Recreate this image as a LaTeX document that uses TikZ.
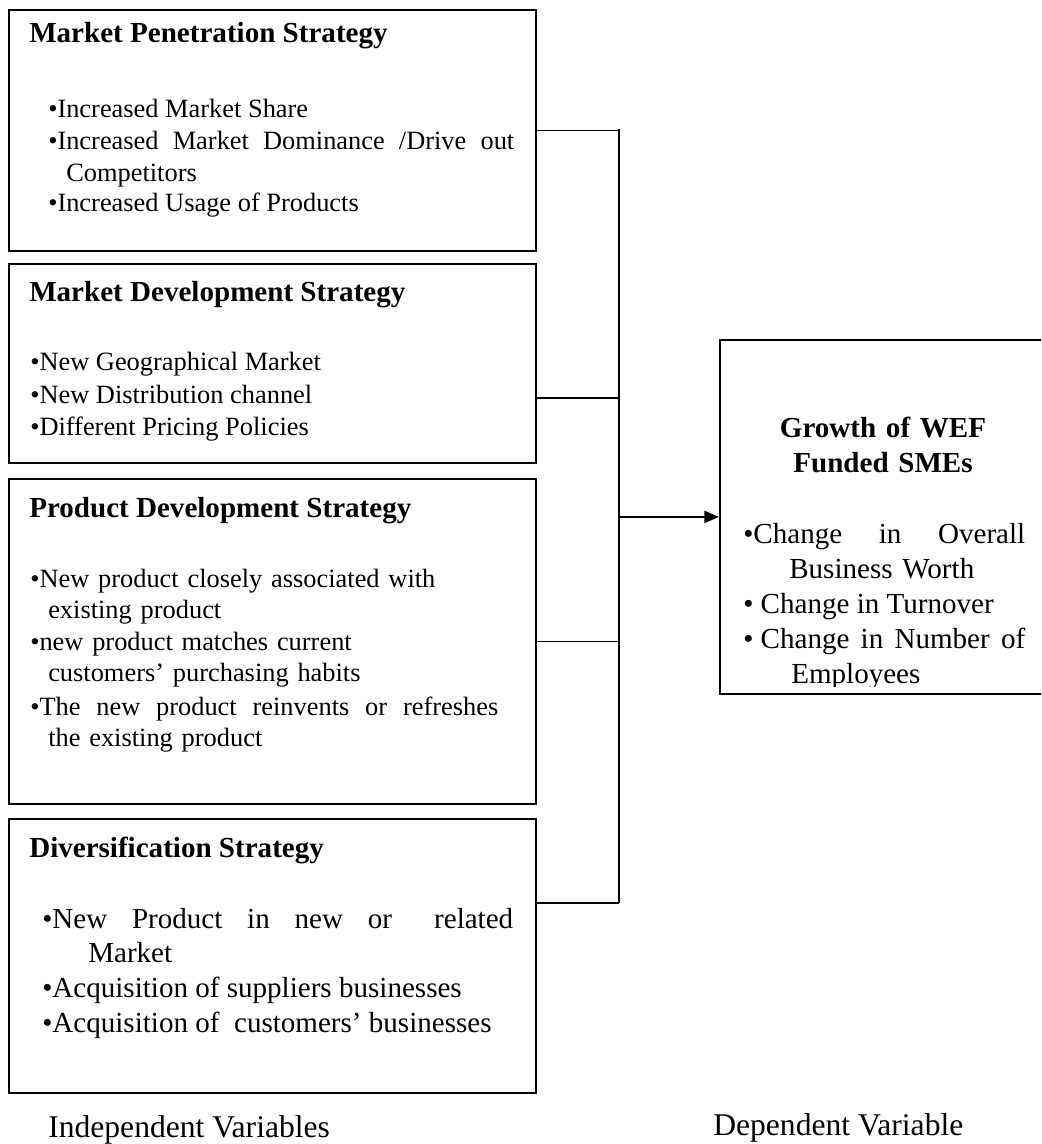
\documentclass[tikz,border=0pt]{standalone}
\usepackage{fontspec}
\setmainfont{Liberation Serif}
\usetikzlibrary{arrows.meta}
\newcommand{\justline}[2]{\makebox[#1][s]{\spaceskip=0.25em plus 1fil\relax #2}}

\begin{document}
\begin{tikzpicture}[x=0.75pt,y=0.75pt,yscale=-1,xscale=1,
  box/.style={draw, line width=1.4pt, rectangle, anchor=north west, inner sep=0pt},
  link/.style={line width=1.2pt},
  txt/.style={inner sep=0pt, anchor=base west, font=\fontsize{19.8}{23.5}\selectfont},
  txtbig/.style={inner sep=0pt, anchor=base west, font=\fontsize{21.8}{25.8}\selectfont},
  head/.style={inner sep=0pt, anchor=base west, font=\bfseries\fontsize{21.8}{26.25}\selectfont},
  wrap/.style={text width=#1, align=left},
  varlabel/.style={inner sep=0pt, anchor=base west, font=\fontsize{23.7}{28}\selectfont}]
\useasboundingbox (0,0) rectangle (1041,1144);
\clip (0,0) rectangle (1041,1144);

%Shape: Rectangle
\node (penbox) at (8,9) [box, minimum width=395.25pt, minimum height=180.75pt] {};
%Shape: Rectangle
\node (devbox) at (8,263) [box, minimum width=395.25pt, minimum height=149.25pt] {};
%Shape: Rectangle
\node (prodbox) at (8,478) [box, minimum width=395.25pt, minimum height=243.75pt] {};
%Shape: Rectangle
\node (divbox) at (8,818) [box, minimum width=395.25pt, minimum height=205.5pt] {};
%Shape: Rectangle
\node (growthbox) at (719,339) [box, minimum width=255pt, minimum height=265.5pt] {};

\coordinate (bustop) at (619,129);
\coordinate (busdev) at (619,398);
\coordinate (busdiv) at (619,903);

%Straight Lines
\draw [link] (penbox.east) -- (penbox.east -| bustop);
%Straight Lines
\draw [link] (busdev -| devbox.east) -- (busdev);
%Straight Lines
\draw [link] (prodbox.east) -- (prodbox.east -| bustop);
%Straight Lines
\draw [link] (busdiv -| divbox.east) -- (busdiv);
%Straight Lines
\draw [link] (bustop) -- (busdiv);
%Straight Lines
\draw [link, line width=1.8pt, -{Triangle[length=11pt,width=9pt]}] (growthbox.west -| bustop) -- (growthbox.west);

% Text Node
\draw (29,43) node (penhead) [head] {Market Penetration Strategy};
% Text Node
\draw (48,118) node (pen1) [txt] {•Increased Market Share};
% Text Node
\draw (48,150) node (pen2) [txt, wrap=380pt] {\justline{349.5pt}{•Increased Market Dominance /Drive out}\\\hspace*{13.5pt}Competitors};
% Text Node
\draw (48,212) node (pen3) [txt] {•Increased Usage of Products};

% Text Node
\draw (29,302) node (devhead) [head] {Market Development Strategy};
% Text Node
\draw (30,370) node (dev1) [txt] {•New Geographical Market};
% Text Node
\draw (30,403) node (dev2) [txt] {•New Distribution channel};
% Text Node
\draw (30,435) node (dev3) [txt] {•Different Pricing Policies};

% Text Node
\draw (29,517) node (prodhead) [head] {Product Development Strategy};
% Text Node
\draw (30,587) node (prod1) [txt, wrap=380pt] {•New product closely associated with\\\hspace*{13.5pt}existing product};
% Text Node
\draw (30,650) node (prod2) [txt, wrap=380pt] {•new product matches current\\\hspace*{13.5pt}customers’ purchasing habits};
% Text Node
\draw (30,715) node (prod3) [txt, wrap=380pt] {\justline{351pt}{•The new product reinvents or refreshes}\\\hspace*{13.5pt}the existing product};

% Text Node
\draw (29,857) node (divhead) [head] {Diversification Strategy};
% Text Node
\draw (42,928) node (div1) [txtbig, wrap=380pt] {\justline{353.25pt}{•New Product in new or \hfil related}\\\hspace*{34.5pt}Market};
% Text Node
\draw (42,997) node (div2) [txtbig] {•Acquisition of suppliers businesses};
% Text Node
\draw (42,1032) node (div3) [txtbig] {•Acquisition of~~customers’ businesses};

% Text Node
\draw (883,437) node (growthhead) [head, anchor=base, text width=240pt, align=center] {Growth of WEF\\Funded SMEs};
\begin{scope}
\clip (719,339) rectangle (1050,686);
% Text Node
\draw (743,543) node (growth1) [txtbig, wrap=250pt, font=\fontsize{21.8}{26.25}\selectfont] {\justline{211.5pt}{•Change in Overall}\\\hspace*{34.5pt}Business Worth};
% Text Node
\draw (743,613) node (growth2) [txtbig] {• Change in Turnover};
% Text Node
\draw (743,648) node (growth3) [txtbig, wrap=250pt, font=\fontsize{21.8}{26.25}\selectfont] {\justline{211.5pt}{•\kern0.25em Change in Number of}\\\hspace*{36pt}Employees};
\end{scope}

% Text Node
\draw (48,1137) node (indep) [varlabel] {Independent Variables};
% Text Node
\draw (713,1135) node (dep) [varlabel] {Dependent Variable};

\end{tikzpicture}
\end{document}
